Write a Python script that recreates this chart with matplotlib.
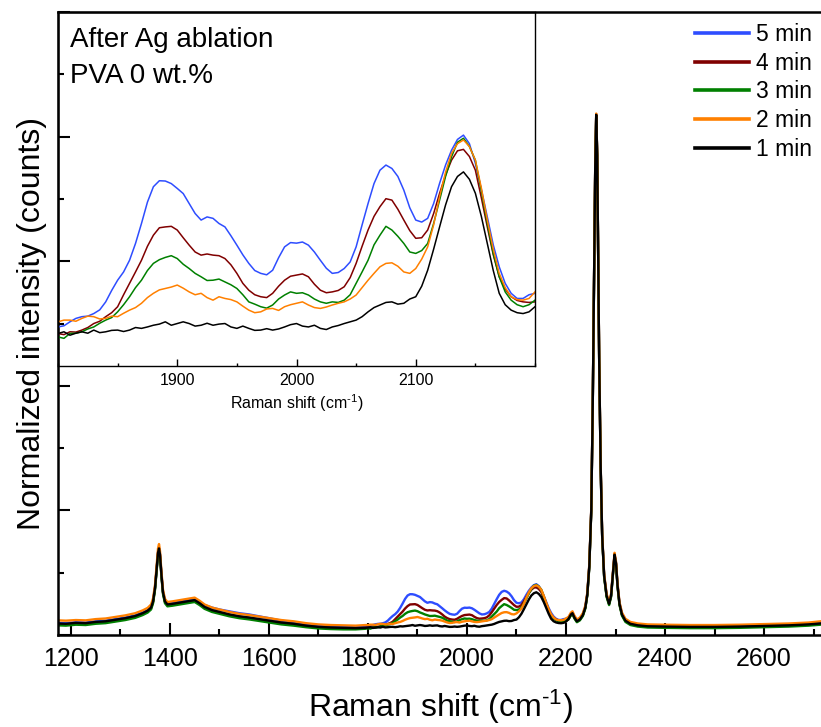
import matplotlib
matplotlib.use('Agg')
import matplotlib.pyplot as plt
from matplotlib.ticker import MultipleLocator

plt.rcParams['font.family'] = ['Liberation Sans', 'DejaVu Sans']
plt.rcParams['mathtext.fontset'] = 'custom'
plt.rcParams['mathtext.rm'] = 'Liberation Sans'
plt.rcParams['mathtext.it'] = 'Liberation Sans'

# Raman shift grids (cm-1): low part, zoomed part (inset range), high part
x_low = [1174, 1190, 1210, 1230, 1250, 1270, 1290, 1310, 1330, 1345,
         1355, 1362, 1366, 1370, 1373, 1376, 1378, 1380, 1383, 1386,
         1390, 1395, 1405, 1420, 1435, 1450, 1460, 1470, 1485, 1500,
         1520, 1540, 1560, 1580, 1600, 1625, 1650, 1675, 1700, 1725,
         1750, 1775, 1795]
x_mid = list(range(1800, 2201, 5))
x_high = [2205, 2210, 2213, 2217, 2222, 2228, 2234, 2239, 2243, 2247,
          2251, 2254, 2257, 2259, 2261, 2263, 2265, 2267, 2270, 2273,
          2277, 2282, 2287, 2291, 2295, 2298, 2301, 2304, 2308, 2313,
          2320, 2330, 2345, 2365, 2400, 2450, 2500, 2550, 2600, 2650,
          2690, 2714]

# 5 min
min5_low = [1.95, 1.9, 2.05, 2.0, 2.2, 2.3, 2.55, 2.8, 3.15, 3.6,
            4.0, 4.5, 5.5, 7.7, 10.5, 13.3, 14.0, 13.0, 9.7, 7.0,
            5.5, 5.0, 5.1, 5.4, 5.6, 5.8, 5.3, 4.8, 4.4, 4.1,
            3.8, 3.5, 3.3, 3.0, 2.7, 2.3, 2.0, 1.7, 1.45, 1.35,
            1.3, 1.3, 1.45]
min5_mid = [1.42, 1.46, 1.60, 1.72, 1.78, 1.80, 1.89, 2.02, 2.30, 2.70,
            3.06, 3.35, 3.76, 4.35, 5.05, 5.80, 6.34, 6.55, 6.54, 6.45,
            6.28, 6.10, 5.75, 5.40, 5.17, 5.28, 5.23, 5.05, 4.93, 4.62,
            4.29, 3.95, 3.65, 3.40, 3.30, 3.25, 3.41, 3.85, 4.23, 4.38,
            4.36, 4.40, 4.29, 4.05, 3.76, 3.48, 3.30, 3.33, 3.47, 3.70,
            4.23, 5.00, 5.75, 6.45, 6.92, 7.10, 6.98, 6.70, 6.22, 5.60,
            5.17, 5.10, 5.23, 5.75, 6.46, 7.10, 7.62, 8.00, 8.15, 7.85,
            7.16, 6.25, 5.28, 4.30, 3.53, 2.95, 2.60, 2.42, 2.42, 2.55,
            2.60]
min5_high = [2.8, 3.45, 3.65, 2.95, 2.35, 2.65, 3.35, 4.55, 6.65, 11.15,
             20.15, 37.15, 60.15, 75.15, 83.6, 77.1, 60.1, 44.1, 27.1, 16.1,
             9.6, 6.45, 5.15, 6.45, 10.1, 13.0, 11.6, 8.1, 5.15, 3.45,
             2.45, 1.95, 1.7, 1.55, 1.5, 1.45, 1.45, 1.5, 1.6, 1.7,
             1.85, 2.0]

# 4 min
min4_low = [1.7, 1.7, 1.85, 1.8, 2.0, 2.1, 2.35, 2.6, 2.95, 3.4,
            3.8, 4.3, 5.3, 7.5, 10.3, 13.1, 13.8, 12.8, 9.5, 6.8,
            5.3, 4.8, 4.9, 5.1, 5.3, 5.5, 5.0, 4.4, 3.95, 3.65,
            3.25, 2.95, 2.75, 2.5, 2.25, 1.95, 1.75, 1.45, 1.25, 1.15,
            1.1, 1.1, 1.15]
min4_mid = [1.19, 1.15, 1.25, 1.24, 1.31, 1.40, 1.54, 1.62, 1.78, 1.92,
            2.13, 2.55, 2.95, 3.35, 3.76, 4.25, 4.64, 4.90, 4.93, 4.95,
            4.82, 4.55, 4.29, 4.05, 3.94, 3.98, 3.94, 3.92, 3.82, 3.60,
            3.30, 2.95, 2.71, 2.55, 2.48, 2.45, 2.60, 2.85, 3.06, 3.20,
            3.24, 3.28, 3.18, 2.92, 2.71, 2.62, 2.65, 2.70, 2.83, 3.15,
            3.65, 4.25, 4.82, 5.30, 5.64, 5.92, 5.87, 5.55, 5.17, 4.80,
            4.53, 4.55, 4.82, 5.40, 6.11, 6.75, 7.27, 7.60, 7.65, 7.40,
            6.92, 5.95, 4.93, 3.95, 3.18, 2.75, 2.48, 2.35, 2.30, 2.28,
            2.30]
min4_high = [2.5, 3.25, 3.45, 2.75, 2.15, 2.45, 3.15, 4.35, 6.45, 10.95,
             19.95, 36.95, 59.95, 74.95, 83.45, 76.95, 59.95, 43.95, 26.95, 15.95,
             9.45, 6.25, 4.95, 6.25, 9.95, 12.85, 11.45, 7.95, 4.95, 3.25,
             2.25, 1.75, 1.5, 1.35, 1.3, 1.25, 1.25, 1.3, 1.4, 1.5,
             1.65, 1.8]

# 3 min
min3_low = [1.55, 1.5, 1.65, 1.6, 1.8, 1.9, 2.15, 2.4, 2.75, 3.2,
            3.6, 4.1, 5.1, 7.3, 10.1, 12.9, 13.6, 12.6, 9.3, 6.6,
            5.1, 4.6, 4.7, 4.9, 5.1, 5.3, 4.8, 4.2, 3.7, 3.4,
            3.0, 2.7, 2.5, 2.25, 2.0, 1.7, 1.5, 1.25, 1.05, 0.95,
            0.9, 0.9, 1.0]
min3_mid = [1.07, 1.02, 1.19, 1.20, 1.25, 1.35, 1.42, 1.55, 1.66, 1.75,
            1.95, 2.20, 2.48, 2.80, 3.06, 3.40, 3.65, 3.78, 3.86, 3.92,
            3.82, 3.62, 3.47, 3.30, 3.18, 3.05, 3.06, 3.10, 3.00, 2.90,
            2.77, 2.55, 2.30, 2.22, 2.13, 2.08, 2.19, 2.40, 2.54, 2.65,
            2.60, 2.62, 2.54, 2.40, 2.30, 2.25, 2.30, 2.28, 2.36, 2.55,
            2.95, 3.35, 3.76, 4.30, 4.64, 4.95, 4.82, 4.60, 4.35, 4.05,
            4.00, 4.10, 4.35, 5.05, 5.87, 6.70, 7.39, 7.90, 8.04, 7.75,
            7.27, 6.20, 5.05, 4.00, 3.18, 2.65, 2.36, 2.20, 2.13, 2.20,
            2.36]
min3_high = [2.5, 3.15, 3.35, 2.65, 2.05, 2.35, 3.05, 4.25, 6.35, 10.85,
             19.85, 36.85, 59.85, 74.85, 83.4, 76.9, 59.85, 43.85, 26.85, 15.85,
             9.3, 6.1, 4.8, 6.1, 9.8, 12.7, 11.3, 7.8, 4.8, 3.1,
             2.1, 1.6, 1.35, 1.2, 1.15, 1.1, 1.1, 1.15, 1.25, 1.35,
             1.5, 1.65]

# 2 min
min2_low = [2.35, 2.3, 2.4, 2.35, 2.55, 2.65, 2.9, 3.15, 3.5, 3.95,
            4.35, 4.9, 5.9, 8.1, 11.0, 13.9, 14.6, 13.5, 10.1, 7.3,
            5.8, 5.3, 5.4, 5.6, 5.8, 6.0, 5.5, 4.9, 4.4, 4.1,
            3.7, 3.4, 3.2, 2.95, 2.7, 2.4, 2.2, 1.9, 1.7, 1.6,
            1.55, 1.5, 1.6]
min2_mid = [1.60, 1.66, 1.66, 1.62, 1.72, 1.80, 1.78, 1.70, 1.72, 1.80,
            1.78, 1.90, 2.01, 2.10, 2.25, 2.45, 2.60, 2.72, 2.77, 2.82,
            2.89, 2.78, 2.65, 2.55, 2.60, 2.45, 2.36, 2.48, 2.42, 2.38,
            2.30, 2.15, 2.01, 1.92, 1.95, 2.05, 2.07, 2.00, 2.13, 2.20,
            2.25, 2.30, 2.19, 2.10, 2.07, 2.12, 2.19, 2.25, 2.30, 2.40,
            2.54, 2.80, 3.06, 3.30, 3.53, 3.65, 3.67, 3.55, 3.35, 3.30,
            3.47, 3.80, 4.23, 5.00, 5.99, 6.85, 7.51, 7.85, 7.98, 7.75,
            7.27, 6.30, 5.17, 4.15, 3.30, 2.80, 2.48, 2.38, 2.36, 2.42,
            2.65]
min2_high = [2.9, 3.6, 3.8, 3.1, 2.5, 2.8, 3.5, 4.7, 6.8, 11.3,
             20.3, 37.3, 60.3, 75.3, 83.7, 77.2, 60.3, 44.3, 27.3, 16.3,
             9.8, 6.6, 5.3, 6.6, 10.3, 13.2, 11.8, 8.3, 5.3, 3.6,
             2.6, 2.1, 1.85, 1.7, 1.65, 1.6, 1.6, 1.65, 1.75, 1.85,
             2.0, 2.2]

# 1 min
min1_low = [1.85, 1.8, 1.95, 1.9, 2.1, 2.2, 2.45, 2.7, 3.05, 3.5,
            3.9, 4.4, 5.4, 7.6, 10.4, 13.2, 13.9, 12.9, 9.6, 6.9,
            5.4, 4.9, 5.0, 5.2, 5.4, 5.6, 5.1, 4.5, 4.0, 3.7,
            3.3, 3.0, 2.8, 2.55, 2.3, 2.0, 1.8, 1.5, 1.3, 1.2,
            1.15, 1.1, 1.15]
min1_mid = [1.19, 1.25, 1.13, 1.20, 1.25, 1.20, 1.31, 1.22, 1.25, 1.30,
            1.31, 1.26, 1.31, 1.40, 1.37, 1.42, 1.48, 1.52, 1.60, 1.48,
            1.54, 1.60, 1.54, 1.45, 1.48, 1.55, 1.48, 1.52, 1.54, 1.42,
            1.37, 1.45, 1.37, 1.30, 1.31, 1.36, 1.31, 1.35, 1.42, 1.50,
            1.54, 1.45, 1.42, 1.48, 1.37, 1.33, 1.42, 1.47, 1.54, 1.60,
            1.66, 1.78, 1.95, 2.10, 2.19, 2.28, 2.30, 2.22, 2.25, 2.40,
            2.48, 2.85, 3.41, 4.15, 4.93, 5.70, 6.34, 6.70, 6.86, 6.60,
            6.11, 5.30, 4.35, 3.40, 2.60, 2.20, 2.01, 1.92, 1.89, 1.95,
            2.13]
min1_high = [2.6, 3.3, 3.5, 2.8, 2.2, 2.5, 3.2, 4.4, 6.5, 11.0,
             20.0, 37.0, 60.0, 75.0, 83.5, 77.0, 60.0, 44.0, 27.0, 16.0,
             9.5, 6.3, 5.0, 6.3, 10.0, 12.9, 11.5, 8.0, 5.0, 3.3,
             2.3, 1.8, 1.55, 1.4, 1.35, 1.3, 1.3, 1.35, 1.45, 1.55,
             1.7, 1.85]

labels = ['5 min', '4 min', '3 min', '2 min', '1 min']
colors = ['#2E4DFF', '#800000', '#008000', '#FF8000', '#000000']
series = [(min5_low, min5_mid, min5_high),
          (min4_low, min4_mid, min4_high),
          (min3_low, min3_mid, min3_high),
          (min2_low, min2_mid, min2_high),
          (min1_low, min1_mid, min1_high)]
inset_ticks = [1900, 2000, 2100]

fig = plt.figure(figsize=(8.21, 7.27), dpi=100)
W, H = 821, 727
ax = fig.add_axes([58 / W, (H - 635) / H, (822 - 58) / W, (635 - 12) / H])
ins = fig.add_axes([58 / W, (H - 366) / H, (535 - 58) / W, (366 - 12) / H])
ins.set_facecolor('none')

x_all = x_low + x_mid + x_high
for (lo, mid, hi), lab, c in zip(series, labels, colors):
    ax.plot(x_all, lo + mid + hi, color=c, lw=1.7, label=lab)
    ins.plot(x_mid, mid, color=c, lw=1.1)

xlab = r'Raman shift (cm$^{\text{-}1}$)'

# main axes
ax.set_xlim(1174, 2717)
ax.set_ylim(0, 100)
ax.xaxis.set_major_locator(MultipleLocator(200))
ax.xaxis.set_minor_locator(MultipleLocator(100))
ax.yaxis.set_major_locator(MultipleLocator(20))
ax.yaxis.set_minor_locator(MultipleLocator(10))
ax.tick_params(which='both', direction='in', top=False, right=False,
               labelleft=False, width=1.5)
ax.tick_params(which='major', length=8.5, labelsize=18, pad=9)
ax.tick_params(which='minor', length=4.3)
for s in ax.spines.values():
    s.set_linewidth(1.8)
ax.set_xlabel(xlab, fontsize=23, labelpad=12)
ax.set_ylabel('Normalized intensity (counts)', fontsize=23, labelpad=8)

leg = ax.legend(loc='upper right', bbox_to_anchor=(812 / W, 1 - 23 / H),
                bbox_transform=fig.transFigure, frameon=False, fontsize=16.5,
                handlelength=2.35, handletextpad=0.3, labelspacing=0.25,
                borderpad=0, borderaxespad=0)
for ln in leg.get_lines():
    ln.set_linewidth(2.6)

# inset
ins.set_xlim(1800, 2200)
ins.set_ylim(0.05, 12.47)
ins.set_xticks(inset_ticks)
ins.xaxis.set_minor_locator(MultipleLocator(50))
ins.set_yticks([])
ins.tick_params(which='both', direction='in', top=False, right=False, width=1.0)
ins.tick_params(which='major', length=5, labelsize=11.5, pad=5)
ins.tick_params(which='minor', length=2.5)
for s in ins.spines.values():
    s.set_linewidth(1.0)
ins.set_xlabel(xlab, fontsize=11.5, labelpad=3)
ins.text(12 / 477, (366 - 47) / 354, 'After Ag ablation', transform=ins.transAxes,
         fontsize=20, va='baseline', ha='left')
ins.text(12 / 477, (366 - 83) / 354, 'PVA 0 wt.%', transform=ins.transAxes,
         fontsize=20, va='baseline', ha='left')

fig.savefig('out.png', dpi=100)
